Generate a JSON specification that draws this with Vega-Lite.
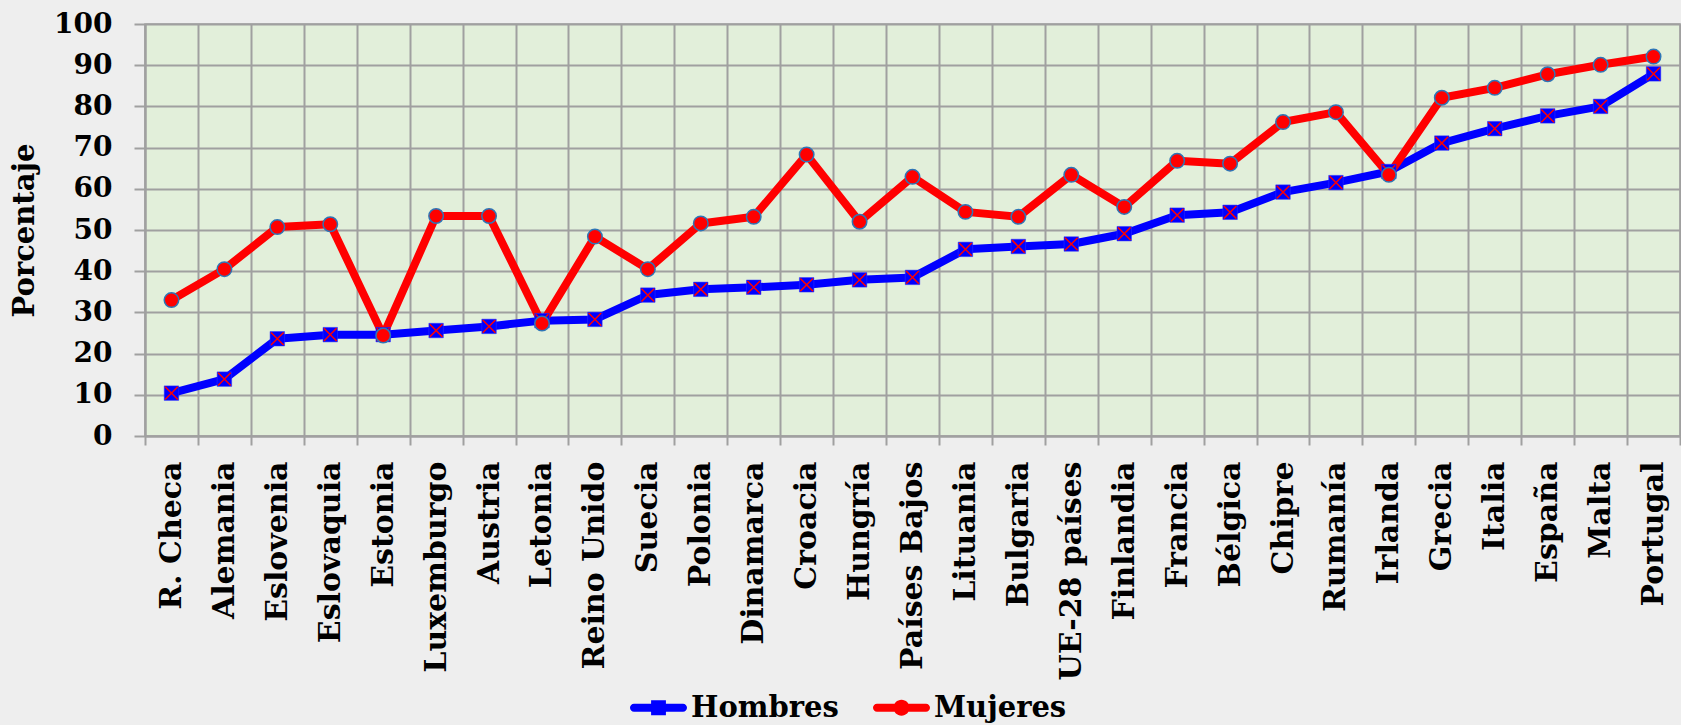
{
  "$schema": "https://vega.github.io/schema/vega-lite/v6.json",
  "autosize": {"type": "none"},
  "width": 1535,
  "height": 412,
  "padding": {"left": 145, "top": 24, "right": 1, "bottom": 289},
  "background": "#eeeeee",
  "config": {
    "view": {"fill": "#e2efda", "stroke": "#a0a0a0", "strokeWidth": 1.5},
    "font": "DejaVu Serif"
  },
  "data": {"values": [
    {"pais": "R. Checa", "sexo": "Hombres", "valor": 10.4},
    {"pais": "Alemania", "sexo": "Hombres", "valor": 13.8},
    {"pais": "Eslovenia", "sexo": "Hombres", "valor": 23.6},
    {"pais": "Eslovaquia", "sexo": "Hombres", "valor": 24.6},
    {"pais": "Estonia", "sexo": "Hombres", "valor": 24.6},
    {"pais": "Luxemburgo", "sexo": "Hombres", "valor": 25.6},
    {"pais": "Austria", "sexo": "Hombres", "valor": 26.6},
    {"pais": "Letonia", "sexo": "Hombres", "valor": 28.0},
    {"pais": "Reino Unido", "sexo": "Hombres", "valor": 28.3},
    {"pais": "Suecia", "sexo": "Hombres", "valor": 34.2},
    {"pais": "Polonia", "sexo": "Hombres", "valor": 35.6},
    {"pais": "Dinamarca", "sexo": "Hombres", "valor": 36.1},
    {"pais": "Croacia", "sexo": "Hombres", "valor": 36.7},
    {"pais": "Hungría", "sexo": "Hombres", "valor": 37.9},
    {"pais": "Países Bajos", "sexo": "Hombres", "valor": 38.5},
    {"pais": "Lituania", "sexo": "Hombres", "valor": 45.3},
    {"pais": "Bulgaria", "sexo": "Hombres", "valor": 46.0},
    {"pais": "UE-28 países", "sexo": "Hombres", "valor": 46.6},
    {"pais": "Finlandia", "sexo": "Hombres", "valor": 49.1},
    {"pais": "Francia", "sexo": "Hombres", "valor": 53.6},
    {"pais": "Bélgica", "sexo": "Hombres", "valor": 54.3},
    {"pais": "Chipre", "sexo": "Hombres", "valor": 59.2},
    {"pais": "Rumanía", "sexo": "Hombres", "valor": 61.5},
    {"pais": "Irlanda", "sexo": "Hombres", "valor": 64.2},
    {"pais": "Grecia", "sexo": "Hombres", "valor": 71.1},
    {"pais": "Italia", "sexo": "Hombres", "valor": 74.6},
    {"pais": "España", "sexo": "Hombres", "valor": 77.7},
    {"pais": "Malta", "sexo": "Hombres", "valor": 80.0},
    {"pais": "Portugal", "sexo": "Hombres", "valor": 87.9},
    {"pais": "R. Checa", "sexo": "Mujeres", "valor": 33.0},
    {"pais": "Alemania", "sexo": "Mujeres", "valor": 40.5},
    {"pais": "Eslovenia", "sexo": "Mujeres", "valor": 50.7},
    {"pais": "Eslovaquia", "sexo": "Mujeres", "valor": 51.4},
    {"pais": "Estonia", "sexo": "Mujeres", "valor": 24.4},
    {"pais": "Luxemburgo", "sexo": "Mujeres", "valor": 53.4},
    {"pais": "Austria", "sexo": "Mujeres", "valor": 53.4},
    {"pais": "Letonia", "sexo": "Mujeres", "valor": 27.3},
    {"pais": "Reino Unido", "sexo": "Mujeres", "valor": 48.4},
    {"pais": "Suecia", "sexo": "Mujeres", "valor": 40.5},
    {"pais": "Polonia", "sexo": "Mujeres", "valor": 51.6},
    {"pais": "Dinamarca", "sexo": "Mujeres", "valor": 53.2},
    {"pais": "Croacia", "sexo": "Mujeres", "valor": 68.3},
    {"pais": "Hungría", "sexo": "Mujeres", "valor": 52.0},
    {"pais": "Países Bajos", "sexo": "Mujeres", "valor": 62.9},
    {"pais": "Lituania", "sexo": "Mujeres", "valor": 54.4},
    {"pais": "Bulgaria", "sexo": "Mujeres", "valor": 53.2},
    {"pais": "UE-28 países", "sexo": "Mujeres", "valor": 63.4},
    {"pais": "Finlandia", "sexo": "Mujeres", "valor": 55.6},
    {"pais": "Francia", "sexo": "Mujeres", "valor": 66.8},
    {"pais": "Bélgica", "sexo": "Mujeres", "valor": 66.1},
    {"pais": "Chipre", "sexo": "Mujeres", "valor": 76.2},
    {"pais": "Rumanía", "sexo": "Mujeres", "valor": 78.6},
    {"pais": "Irlanda", "sexo": "Mujeres", "valor": 63.4},
    {"pais": "Grecia", "sexo": "Mujeres", "valor": 82.1},
    {"pais": "Italia", "sexo": "Mujeres", "valor": 84.5},
    {"pais": "España", "sexo": "Mujeres", "valor": 87.8},
    {"pais": "Malta", "sexo": "Mujeres", "valor": 90.1},
    {"pais": "Portugal", "sexo": "Mujeres", "valor": 92.1}
  ]},
  "encoding": {
    "x": {
      "field": "pais", "type": "nominal", "sort": null,
      "scale": {"paddingInner": 0, "paddingOuter": 0},
      "axis": {
        "title": null, "labelAngle": -90, "tickBand": "extent",
        "grid": true, "gridColor": "#a0a0a0", "gridWidth": 2,
        "domainColor": "#a0a0a0", "domainWidth": 2,
        "tickColor": "#a0a0a0", "tickWidth": 2, "tickSize": 9,
        "labelPadding": 16, "labelFont": "DejaVu Serif", "labelFontSize": 30,
        "labelFontWeight": "bold", "labelColor": "#000000", "labelLimit": 500
      }
    },
    "y": {
      "field": "valor", "type": "quantitative",
      "scale": {"domain": [0, 100], "nice": false},
      "axis": {
        "values": [0, 10, 20, 30, 40, 50, 60, 70, 80, 90, 100],
        "title": "Porcentaje", "titleFont": "DejaVu Serif", "titleFontSize": 29,
        "titleFontWeight": "bold", "titleColor": "#000000",
        "titleX": -112, "titleY": 206, "titleBaseline": "alphabetic", "titleAngle": -90, "titleAlign": "center",
        "grid": true, "gridColor": "#a0a0a0", "gridWidth": 2,
        "domainColor": "#a0a0a0", "domainWidth": 2,
        "tickColor": "#a0a0a0", "tickWidth": 2, "tickSize": 11,
        "labelPadding": 22, "labelFont": "DejaVu Serif", "labelFontSize": 28,
        "labelFontWeight": "bold", "labelColor": "#000000"
      }
    }
  },
  "layer": [
    {
      "transform": [{"filter": "datum.sexo === 'Hombres'"}],
      "mark": {"type": "line", "color": "#0000ff", "strokeWidth": 8, "strokeJoin": "round"},
      "encoding": {}
    },
    {
      "transform": [{"filter": "datum.sexo === 'Mujeres'"}],
      "mark": {"type": "line", "color": "#ff0000", "strokeWidth": 8, "strokeJoin": "round"},
      "encoding": {}
    },
    {
      "transform": [{"filter": "datum.sexo === 'Hombres'"}],
      "mark": {"type": "point", "shape": "square", "filled": true, "fill": "#0000ff", "stroke": "#3030ff", "strokeWidth": 0.5, "size": 210, "opacity": 1},
      "encoding": {}
    },
    {
      "transform": [{"filter": "datum.sexo === 'Hombres'"}],
      "mark": {"type": "point", "shape": "M-1,-1L1,1M-1,1L1,-1", "filled": false, "stroke": "#ff0000", "strokeWidth": 1.5, "size": 160, "opacity": 1},
      "encoding": {}
    },
    {
      "transform": [{"filter": "datum.sexo === 'Mujeres'"}],
      "mark": {"type": "point", "shape": "circle", "filled": true, "fill": "#ff0000", "stroke": "#2e75b6", "strokeWidth": 1.5, "size": 210, "opacity": 1},
      "encoding": {}
    },
    {
      "transform": [{"filter": "false"}],
      "mark": {"type": "point", "filled": true, "opacity": 1, "strokeWidth": 0},
      "encoding": {
        "color": {
          "field": "sexo", "type": "nominal",
          "scale": {"domain": ["Hombres", "Mujeres"], "range": ["#0000ff", "#ff0000"]},
          "legend": {
            "orient": "none", "legendX": 485, "legendY": 655, "direction": "horizontal",
            "title": null, "padding": 0, "symbolSize": 3249, "symbolStrokeWidth": 0,
            "labelFont": "DejaVu Serif", "labelFontSize": 29, "labelFontWeight": "bold",
            "labelColor": "#000000", "labelOffset": 4, "columnPadding": 34, "labelLimit": 400
          }
        },
        "shape": {
          "field": "sexo", "type": "nominal",
          "scale": {"domain": ["Hombres", "Mujeres"], "range": [
            "M-0.86,-0.14H0.86A0.14,0.14 0 0 1 0.86,0.14H-0.86A0.14,0.14 0 0 1 -0.86,-0.14Z M-0.26,-0.26H0.26V0.26H-0.26Z",
            "M-0.86,-0.14H0.86A0.14,0.14 0 0 1 0.86,0.14H-0.86A0.14,0.14 0 0 1 -0.86,-0.14Z M-0.28,0A0.28,0.28 0 1 1 0.28,0A0.28,0.28 0 1 1 -0.28,0Z"
          ]},
          "legend": {
            "orient": "none", "legendX": 485, "legendY": 655, "direction": "horizontal",
            "title": null, "padding": 0, "symbolSize": 3249, "symbolStrokeWidth": 0,
            "labelFont": "DejaVu Serif", "labelFontSize": 29, "labelFontWeight": "bold",
            "labelColor": "#000000", "labelOffset": 4, "columnPadding": 34, "labelLimit": 400
          }
        }
      }
    }
  ]
}
